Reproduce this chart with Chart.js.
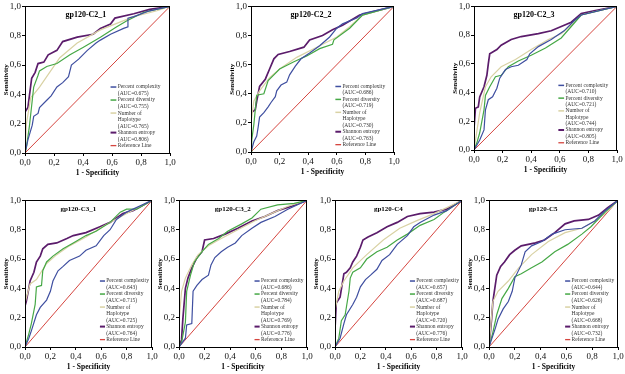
<!DOCTYPE html>
<html>
<head>
<meta charset="utf-8">
<script src="https://cdn.jsdelivr.net/npm/chart.js@4.4.1/dist/chart.umd.min.js"></script>
<style>
  body { margin: 0; background: #fff; overflow: hidden; }
  #fig { position: relative; width: 625px; height: 374px; }
  #fig canvas { position: absolute; }
</style>
</head>
<body>
<div id="fig"></div>
<script>
// panel titles and AUC values
var panelTitles = ["gp120-C2_1", "gp120-C2_2", "gp120-C2_3", "gp120-C3_1", "gp120-C3_2", "gp120-C4", "gp120-C5"];
var aucComplexity = ["0.675", "0.686", "0.710", "0.643", "0.686", "0.657", "0.644"];
var aucDiversity  = ["0.755", "0.719", "0.721", "0.715", "0.784", "0.687", "0.626"];
var aucHaplotype  = ["0.765", "0.730", "0.744", "0.725", "0.769", "0.720", "0.668"];
var aucEntropy    = ["0.806", "0.763", "0.805", "0.764", "0.776", "0.776", "0.732"];
var axisTicks = [0, 0.2, 0.4, 0.6, 0.8, 1.0];

// ROC curves, [1 - specificity, sensitivity]
var c21Complexity = [[0,0],[0.02,0.09],[0.05,0.19],[0.06,0.25],[0.09,0.27],[0.10,0.31],[0.15,0.36],[0.18,0.39],[0.22,0.45],[0.26,0.48],[0.30,0.52],[0.32,0.60],[0.37,0.64],[0.43,0.70],[0.49,0.75],[0.52,0.77],[0.59,0.81],[0.68,0.85],[0.71,0.86],[0.71,0.92],[0.75,0.93],[0.86,0.97],[1,1]];
var c21Diversity = [[0,0],[0.01,0.04],[0.03,0.18],[0.05,0.36],[0.06,0.45],[0.09,0.53],[0.10,0.56],[0.15,0.59],[0.22,0.61],[0.31,0.67],[0.40,0.72],[0.52,0.79],[0.63,0.86],[0.70,0.90],[0.82,0.96],[1,1]];
var c21Haplotype = [[0,0],[0.01,0.20],[0.04,0.38],[0.06,0.40],[0.10,0.45],[0.17,0.55],[0.24,0.65],[0.36,0.75],[0.52,0.84],[0.75,0.93],[0.91,0.97],[1,1]];
var c21Entropy = [[0,0],[0,0.28],[0.02,0.31],[0.046,0.51],[0.07,0.55],[0.09,0.61],[0.13,0.62],[0.16,0.67],[0.22,0.70],[0.26,0.76],[0.36,0.79],[0.47,0.81],[0.52,0.85],[0.59,0.88],[0.62,0.92],[0.75,0.95],[0.86,0.98],[1,1]];

var c22Complexity = [[0,0],[0.02,0.07],[0.04,0.11],[0.05,0.17],[0.06,0.24],[0.09,0.27],[0.12,0.31],[0.14,0.34],[0.17,0.38],[0.18,0.42],[0.21,0.46],[0.25,0.48],[0.27,0.53],[0.31,0.59],[0.35,0.64],[0.41,0.68],[0.48,0.73],[0.55,0.79],[0.60,0.85],[0.64,0.88],[0.74,0.92],[0.78,0.95],[1,1]];
var c22Diversity = [[0,0],[0.005,0.08],[0.02,0.19],[0.04,0.39],[0.09,0.40],[0.12,0.49],[0.16,0.53],[0.20,0.57],[0.30,0.62],[0.39,0.66],[0.48,0.71],[0.57,0.74],[0.58,0.77],[0.69,0.85],[0.78,0.94],[1,1]];
var c22Haplotype = [[0,0],[0,0.20],[0.02,0.35],[0.06,0.42],[0.13,0.51],[0.20,0.57],[0.32,0.65],[0.46,0.72],[0.60,0.79],[0.69,0.86],[0.78,0.94],[1,1]];
var c22Entropy = [[0,0],[0,0.27],[0.03,0.29],[0.04,0.35],[0.06,0.45],[0.10,0.50],[0.13,0.57],[0.16,0.64],[0.19,0.67],[0.27,0.69],[0.37,0.72],[0.41,0.77],[0.50,0.80],[0.57,0.84],[0.64,0.87],[0.76,0.94],[1,1]];

var c23Complexity = [[0,0],[0.04,0.07],[0.07,0.14],[0.08,0.28],[0.10,0.35],[0.13,0.37],[0.16,0.43],[0.18,0.50],[0.22,0.56],[0.26,0.58],[0.31,0.59],[0.37,0.63],[0.39,0.67],[0.45,0.72],[0.54,0.77],[0.63,0.83],[0.70,0.90],[0.75,0.94],[1,1]];
var c23Diversity = [[0,0],[0.02,0.05],[0.04,0.12],[0.07,0.28],[0.08,0.38],[0.11,0.44],[0.15,0.51],[0.19,0.52],[0.24,0.58],[0.31,0.62],[0.40,0.66],[0.50,0.71],[0.61,0.78],[0.68,0.86],[0.75,0.94],[1,1]];
var c23Haplotype = [[0,0],[0.04,0.26],[0.08,0.44],[0.12,0.51],[0.19,0.58],[0.29,0.63],[0.40,0.70],[0.52,0.77],[0.61,0.81],[0.68,0.87],[0.75,0.94],[1,1]];
var c23Entropy = [[0,0],[0,0.15],[0.01,0.29],[0.03,0.30],[0.04,0.37],[0.07,0.44],[0.09,0.52],[0.10,0.60],[0.11,0.67],[0.16,0.70],[0.19,0.73],[0.26,0.77],[0.33,0.79],[0.45,0.81],[0.54,0.83],[0.61,0.86],[0.68,0.89],[0.75,0.95],[0.84,0.97],[1,1]];

var c31Complexity = [[0,0],[0.03,0.06],[0.05,0.11],[0.09,0.22],[0.12,0.27],[0.17,0.32],[0.20,0.38],[0.22,0.45],[0.26,0.52],[0.30,0.55],[0.35,0.59],[0.43,0.62],[0.48,0.66],[0.56,0.69],[0.62,0.76],[0.67,0.80],[0.72,0.87],[0.80,0.92],[1,1]];
var c31Diversity = [[0,0],[0.03,0.09],[0.05,0.16],[0.08,0.29],[0.09,0.41],[0.13,0.42],[0.14,0.52],[0.17,0.58],[0.22,0.62],[0.30,0.67],[0.38,0.71],[0.48,0.76],[0.56,0.79],[0.67,0.85],[0.75,0.92],[0.80,0.94],[0.88,0.94],[1,1]];
var c31Haplotype = [[0,0],[0,0.30],[0.04,0.43],[0.09,0.46],[0.17,0.57],[0.25,0.63],[0.35,0.69],[0.48,0.75],[0.59,0.81],[0.69,0.86],[0.82,0.92],[1,1]];
var c31Entropy = [[0,0],[0,0.28],[0.01,0.31],[0.03,0.40],[0.04,0.45],[0.07,0.51],[0.09,0.58],[0.12,0.62],[0.14,0.67],[0.18,0.70],[0.25,0.71],[0.33,0.74],[0.38,0.76],[0.48,0.78],[0.59,0.82],[0.67,0.85],[0.77,0.91],[0.85,0.93],[1,1]];

var c32Complexity = [[0,0],[0.05,0.06],[0.06,0.15],[0.10,0.16],[0.11,0.38],[0.14,0.42],[0.18,0.46],[0.23,0.49],[0.25,0.56],[0.28,0.61],[0.33,0.65],[0.38,0.68],[0.44,0.71],[0.49,0.76],[0.57,0.81],[0.64,0.85],[0.75,0.89],[0.85,0.94],[1,1]];
var c32Diversity = [[0,0],[0.02,0.03],[0.05,0.17],[0.06,0.38],[0.09,0.49],[0.12,0.58],[0.18,0.65],[0.23,0.70],[0.31,0.74],[0.38,0.79],[0.49,0.84],[0.57,0.88],[0.64,0.94],[0.77,0.97],[0.90,0.98],[1,1]];
var c32Haplotype = [[0,0],[0,0.17],[0.02,0.38],[0.05,0.47],[0.10,0.56],[0.15,0.63],[0.23,0.69],[0.33,0.74],[0.46,0.80],[0.59,0.86],[0.72,0.91],[0.85,0.96],[1,1]];
var c32Entropy = [[0,0],[0.02,0.05],[0.03,0.19],[0.05,0.40],[0.07,0.47],[0.10,0.54],[0.14,0.61],[0.18,0.65],[0.20,0.73],[0.27,0.74],[0.36,0.77],[0.46,0.81],[0.57,0.86],[0.67,0.89],[0.77,0.93],[0.88,0.96],[1,1]];

var c4Complexity = [[0,0],[0.04,0.06],[0.07,0.16],[0.09,0.22],[0.14,0.29],[0.17,0.34],[0.20,0.41],[0.24,0.46],[0.28,0.49],[0.33,0.53],[0.37,0.59],[0.43,0.63],[0.49,0.70],[0.57,0.76],[0.62,0.82],[0.67,0.85],[0.78,0.90],[0.88,0.93],[1,1]];
var c4Diversity = [[0,0],[0.03,0.06],[0.05,0.18],[0.08,0.22],[0.11,0.38],[0.12,0.47],[0.14,0.51],[0.20,0.54],[0.25,0.60],[0.33,0.65],[0.41,0.68],[0.49,0.73],[0.57,0.77],[0.67,0.83],[0.78,0.87],[0.86,0.92],[1,1]];
var c4Haplotype = [[0,0],[0,0.25],[0.03,0.38],[0.07,0.45],[0.14,0.54],[0.25,0.63],[0.38,0.73],[0.51,0.81],[0.64,0.86],[0.78,0.91],[1,1]];
var c4Entropy = [[0,0],[0,0.12],[0.01,0.30],[0.04,0.34],[0.07,0.50],[0.09,0.51],[0.12,0.54],[0.14,0.58],[0.17,0.62],[0.20,0.68],[0.22,0.73],[0.26,0.75],[0.33,0.78],[0.41,0.82],[0.49,0.85],[0.57,0.89],[0.67,0.91],[0.78,0.92],[0.88,0.94],[1,1]];

var c5Complexity = [[0,0],[0.05,0.13],[0.07,0.19],[0.11,0.26],[0.15,0.31],[0.18,0.38],[0.20,0.47],[0.25,0.56],[0.28,0.65],[0.33,0.69],[0.41,0.72],[0.49,0.77],[0.59,0.80],[0.72,0.81],[0.82,0.86],[0.90,0.93],[1,1]];
var c5Diversity = [[0,0],[0.03,0.10],[0.06,0.22],[0.10,0.33],[0.15,0.40],[0.20,0.48],[0.25,0.50],[0.33,0.54],[0.41,0.58],[0.51,0.65],[0.61,0.70],[0.72,0.77],[0.79,0.82],[0.90,0.92],[1,1]];
var c5Haplotype = [[0,0],[0.03,0.31],[0.07,0.38],[0.15,0.45],[0.23,0.54],[0.33,0.63],[0.46,0.72],[0.59,0.78],[0.72,0.81],[0.82,0.86],[0.90,0.91],[1,1]];
var c5Entropy = [[0,0],[0.02,0.19],[0.03,0.31],[0.06,0.49],[0.09,0.55],[0.12,0.58],[0.16,0.63],[0.20,0.66],[0.25,0.69],[0.36,0.71],[0.43,0.73],[0.51,0.78],[0.59,0.84],[0.66,0.86],[0.77,0.87],[0.85,0.90],[0.92,0.95],[1,1]];

var referenceLine = [[0,0],[1,1]];

var curves = [
  [c21Complexity, c21Diversity, c21Haplotype, c21Entropy],
  [c22Complexity, c22Diversity, c22Haplotype, c22Entropy],
  [c23Complexity, c23Diversity, c23Haplotype, c23Entropy],
  [c31Complexity, c31Diversity, c31Haplotype, c31Entropy],
  [c32Complexity, c32Diversity, c32Haplotype, c32Entropy],
  [c4Complexity, c4Diversity, c4Haplotype, c4Entropy],
  [c5Complexity, c5Diversity, c5Haplotype, c5Entropy]
];

// plot area boxes in the page (left, top, right, bottom)
var plotBoxes = [
  [25, 6, 170, 153], [251, 6, 394, 152], [474, 6, 617, 150],
  [25, 200, 152, 347], [179, 200, 307, 347], [335, 200, 462, 347], [489, 200, 618, 347]
];

var colors = ["#3f4fa0", "#46a846", "#d9d2a4", "#5b1c6b", "#d5453f"];
var widths = [1.2, 1.2, 1.2, 1.7, 1];
var serif = '"Liberation Serif", "DejaVu Serif", serif';

function toPoints(arr) {
  return arr.map(function (p) { return { x: p[0], y: p[1] }; });
}

function fmt(v) {
  return v.toFixed(1).replace(".", ",");
}

// frame, title in the plot and the legend
var panelDecor = {
  id: "panelDecor",
  afterDatasetsDraw: function (chart, args, o) {
    var a = chart.chartArea, ctx = chart.ctx;
    var w = a.right - a.left, h = a.bottom - a.top;
    ctx.save();
    ctx.strokeStyle = "#000";
    ctx.lineWidth = 1;
    ctx.strokeRect(Math.round(a.left) + 0.5, Math.round(a.top) + 0.5, Math.round(w) - 1, Math.round(h));

    ctx.fillStyle = "#000";
    ctx.font = "bold " + o.titleSize + "px " + serif;
    ctx.textAlign = "center";
    ctx.textBaseline = "middle";
    ctx.fillText(o.title, a.left + w * 0.42, a.top + 9);

    ctx.font = "5.5px " + serif;
    ctx.textAlign = "left";
    ctx.fillStyle = "#333";
    var row = 0;
    o.entries.forEach(function (e, i) {
      var y = a.top + h * (0.55 + row * 0.0444);
      ctx.strokeStyle = colors[i];
      ctx.lineWidth = widths[i] + 0.3;
      ctx.beginPath();
      ctx.moveTo(a.left + w * 0.59, y);
      ctx.lineTo(a.left + w * 0.63, y);
      ctx.stroke();
      e.forEach(function (t) {
        ctx.fillText(t, a.left + w * 0.64, a.top + h * (0.55 + row * 0.0444));
        row++;
      });
    });
    ctx.restore();
  }
};

var fig = document.getElementById("fig");

panelTitles.forEach(function (title, k) {
  var b = plotBoxes[k];
  var cv = document.createElement("canvas");
  var cw = (b[2] - b[0]) + 25 + 8;
  var ch = (b[3] - b[1]) + 6 + 29;
  cv.width = cw;
  cv.height = ch;
  cv.style.left = (b[0] - 25) + "px";
  cv.style.top = (b[1] - 6) + "px";
  fig.appendChild(cv);

  var sets = curves[k].map(function (c, i) {
    return {
      data: toPoints(c),
      borderColor: colors[i],
      borderWidth: widths[i],
      showLine: true,
      pointRadius: 0,
      tension: 0,
      fill: false
    };
  });
  sets.push({
    data: toPoints(referenceLine),
    borderColor: colors[4],
    borderWidth: widths[4],
    showLine: true,
    pointRadius: 0,
    fill: false
  });

  var entries = [
    ["Percent complexity", "(AUC=" + aucComplexity[k] + ")"],
    ["Percent diversity", "(AUC=" + aucDiversity[k] + ")"],
    ["Number of", "Haplotype", "(AUC=" + aucHaplotype[k] + ")"],
    ["Shannon entropy", "(AUC=" + aucEntropy[k] + ")"],
    ["Reference Line"]
  ];

  var tickFont = { family: serif, size: 9 };

  new Chart(cv.getContext("2d"), {
    type: "scatter",
    data: { datasets: sets },
    plugins: [panelDecor],
    options: {
      responsive: false,
      animation: false,
      events: [],
      devicePixelRatio: 1,
      layout: { padding: { top: 6, right: 8, left: 0, bottom: 0 } },
      plugins: {
        legend: { display: false },
        tooltip: { enabled: false },
        panelDecor: { title: title, titleSize: k < 3 ? 8 : 7, entries: entries }
      },
      scales: {
        x: {
          type: "linear",
          min: 0,
          max: 1,
          afterFit: function (s) { s.height = 29; },
          afterBuildTicks: function (s) { s.ticks = axisTicks.map(function (v) { return { value: v }; }); },
          ticks: { callback: fmt, font: tickFont, color: "#111", padding: 1, maxRotation: 0, autoSkip: false },
          grid: { drawOnChartArea: false, tickLength: 3, color: "#000" },
          border: { color: "#000" },
          title: { display: true, text: "1 - Specificity", color: "#000", font: { family: serif, size: 7.5, weight: "bold" }, padding: 4 }
        },
        y: {
          type: "linear",
          min: 0,
          max: 1,
          afterFit: function (s) { s.width = 25; },
          afterBuildTicks: function (s) { s.ticks = axisTicks.map(function (v) { return { value: v }; }); },
          ticks: { callback: fmt, font: tickFont, color: "#111", padding: 1, autoSkip: false },
          grid: { drawOnChartArea: false, tickLength: 3, color: "#000" },
          border: { color: "#000" },
          title: { display: true, text: "Sensitivity", color: "#000", font: { family: serif, size: 7, weight: "bold" }, padding: 2 }
        }
      }
    }
  });
});
</script>
</body>
</html>
